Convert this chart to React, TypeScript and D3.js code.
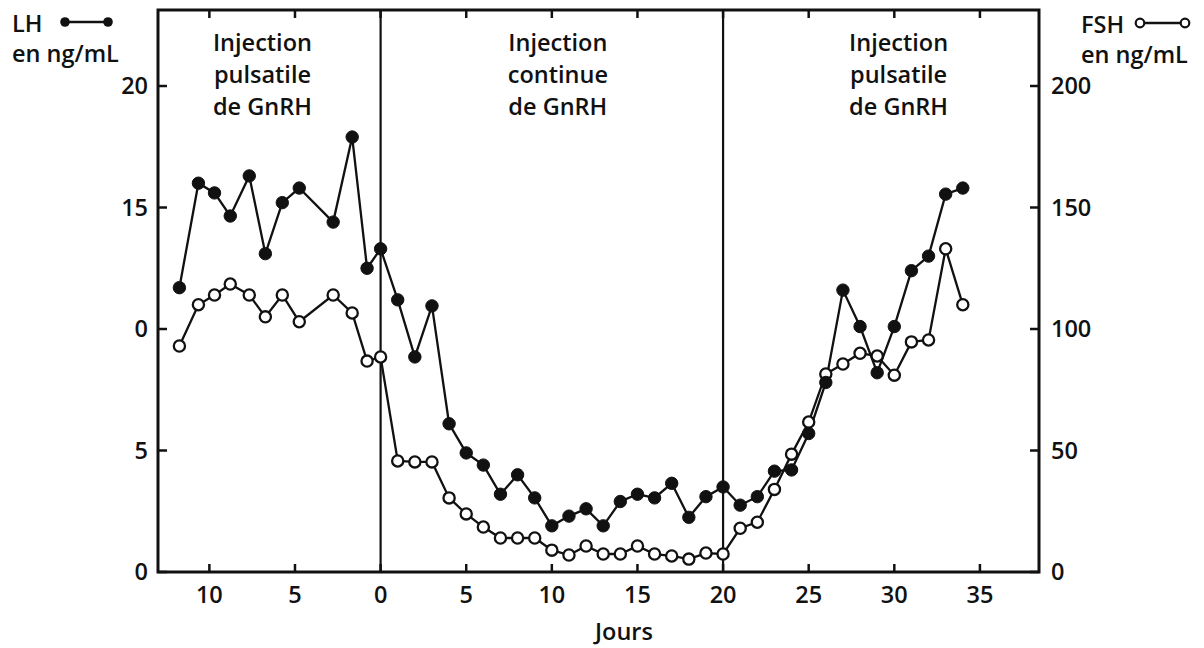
import React from "react";
import * as d3 from "d3";

// ---- Data ----
const preDays = [-11.75, -10.64, -9.7, -8.78, -7.67, -6.73, -5.74, -4.75, -2.77, -1.66, -0.79, 0];
const preLH = [11.7, 16.0, 15.6, 14.65, 16.3, 13.1, 15.2, 15.8, 14.4, 17.9, 12.5, 13.3];
const preFSH = [93, 110, 114, 118.5, 114, 105, 114, 103, 114, 106.6, 86.8, 88.5];

const postDays = [1, 2, 3, 4, 5, 6, 7, 8, 9, 10, 11, 12, 13, 14, 15, 16, 17, 18, 19, 20, 21, 22, 23, 24, 25, 26, 27, 28, 29, 30, 31, 32, 33, 34];
const postLH = [11.2, 8.85, 10.95, 6.1, 4.9, 4.4, 3.2, 4.0, 3.05, 1.9, 2.3, 2.6, 1.9, 2.9, 3.2, 3.05, 3.65, 2.25, 3.1, 3.5, 2.75, 3.1, 4.15, 4.2, 5.7, 7.8, 11.6, 10.1, 8.2, 10.1, 12.4, 13.0, 15.55, 15.8];
const postFSH = [45.7, 45.3, 45.3, 30.5, 23.9, 18.5, 14, 14, 14, 9, 7, 10.7, 7.4, 7.4, 10.7, 7.4, 6.6, 5.3, 7.8, 7.4, 18, 20.5, 34, 48.5, 61.7, 81.5, 85.6, 90, 88.9, 81, 94.7, 95.5, 133, 110];

const xTickValues = [-10, -5, 0, 5, 10, 15, 20, 25, 30, 35];
const xTickLabels = ["10", "5", "0", "5", "10", "15", "20", "25", "30", "35"];
const lhTickValues = [0, 5, 10, 15, 20];
const lhTickLabels = ["0", "5", "0", "15", "20"];
const fshTickValues = [0, 50, 100, 150, 200];
const fshTickLabels = ["0", "50", "100", "150", "200"];
const phaseBounds = [0, 20];
const phaseLabels = [
  { lines: ["Injection", "pulsatile", "de GnRH"], at: -6.9 },
  { lines: ["Injection", "continue", "de GnRH"], at: 10.35 },
  { lines: ["Injection", "pulsatile", "de GnRH"], at: 30.25 },
];

const FONT = "'Open Sans', 'DejaVu Sans', sans-serif";
const INK = "#111";
const FS = 23.5;

export default function App() {
  const left = 158, right = 1039, top = 10, bottom = 572;
  const x = d3.scaleLinear().domain([-13, 38.45]).range([left, right]);
  const yLH = d3.scaleLinear().domain([0, 20]).range([bottom, 86]);
  const yFSH = d3.scaleLinear().domain([0, 200]).range([bottom, 86]);

  const days = [...preDays, ...postDays];
  const lh = [...preLH, ...postLH];
  const fsh = [...preFSH, ...postFSH];

  const lhPts: [number, number][] = days.map((d, i) => [x(d), yLH(lh[i])]);
  const fshPts: [number, number][] = days.map((d, i) => [x(d), yFSH(fsh[i])]);
  const line = d3.line();

  const txt = { fontFamily: FONT, fontWeight: 600, fill: INK } as const;

  return (
    <svg width={1204} height={648} style={{ position: "fixed", left: 0, top: 0, background: "#fff" }}>
      <rect x={0} y={0} width={1204} height={648} fill="#fff" />
      {/* phase separators */}
      {phaseBounds.map((d) => (
        <line key={"pb" + d} x1={x(d)} x2={x(d)} y1={top} y2={bottom} stroke={INK} strokeWidth={2.2} />
      ))}
      {/* frame */}
      <rect x={left} y={top} width={right - left} height={bottom - top} fill="none" stroke={INK} strokeWidth={3} />
      {/* x ticks bottom & top */}
      {xTickValues.map((d, i) => (
        <g key={"xt" + d}>
          <line x1={x(d)} x2={x(d)} y1={bottom} y2={bottom - 8} stroke={INK} strokeWidth={2.5} />
          <line x1={x(d)} x2={x(d)} y1={top} y2={top + 8} stroke={INK} strokeWidth={2.5} />
          <text x={x(d)} y={603} textAnchor="middle" fontSize={FS} {...txt}>{xTickLabels[i]}</text>
        </g>
      ))}
      <text x={624} y={640} textAnchor="middle" fontSize={FS} {...txt}>Jours</text>
      {/* left axis ticks */}
      {lhTickValues.map((v, i) => (
        <g key={"ly" + v}>
          <line x1={left} x2={left + 9} y1={yLH(v)} y2={yLH(v)} stroke={INK} strokeWidth={2.5} />
          <text x={148} y={yLH(v) + 8} textAnchor="end" fontSize={FS} {...txt}>{lhTickLabels[i]}</text>
        </g>
      ))}
      {/* right axis ticks */}
      {fshTickValues.map((v, i) => (
        <g key={"ry" + v}>
          <line x1={right} x2={right - 9} y1={yFSH(v)} y2={yFSH(v)} stroke={INK} strokeWidth={2.5} />
          <text x={1051} y={yFSH(v) + 8} textAnchor="start" fontSize={FS} {...txt}>{fshTickLabels[i]}</text>
        </g>
      ))}
      {/* phase labels */}
      {phaseLabels.map((p, k) => (
        <text key={"pl" + k} textAnchor="middle" fontSize={FS} {...txt}>
          {p.lines.map((l, j) => (
            <tspan key={j} x={x(p.at)} y={51 + j * 32}>{l}</tspan>
          ))}
        </text>
      ))}
      {/* series lines */}
      <path d={line(lhPts) || ""} fill="none" stroke={INK} strokeWidth={2.3} />
      <path d={line(fshPts) || ""} fill="none" stroke={INK} strokeWidth={2.3} />
      {fshPts.map((p, i) => (
        <circle key={"f" + i} cx={p[0]} cy={p[1]} r={5.6} fill="#fff" stroke={INK} strokeWidth={2.3} />
      ))}
      {lhPts.map((p, i) => (
        <circle key={"l" + i} cx={p[0]} cy={p[1]} r={6.2} fill={INK} stroke={INK} strokeWidth={1} />
      ))}
      {/* LH legend */}
      <text x={12} y={32} fontSize={FS} {...txt}>LH</text>
      <line x1={65} x2={108} y1={22} y2={22} stroke={INK} strokeWidth={2.5} />
      <circle cx={65} cy={22} r={4.8} fill={INK} />
      <circle cx={108} cy={22} r={4.8} fill={INK} />
      <text x={12} y={62} fontSize={FS} {...txt}>en ng/mL</text>
      {/* FSH legend */}
      <text x={1081} y={33} fontSize={FS} {...txt}>FSH</text>
      <line x1={1140} x2={1185} y1={23} y2={23} stroke={INK} strokeWidth={2.5} />
      <circle cx={1140} cy={23} r={4.3} fill="#fff" stroke={INK} strokeWidth={2.2} />
      <circle cx={1185} cy={23} r={4.3} fill="#fff" stroke={INK} strokeWidth={2.2} />
      <text x={1081} y={63} fontSize={FS} {...txt}>en ng/mL</text>
    </svg>
  );
}
